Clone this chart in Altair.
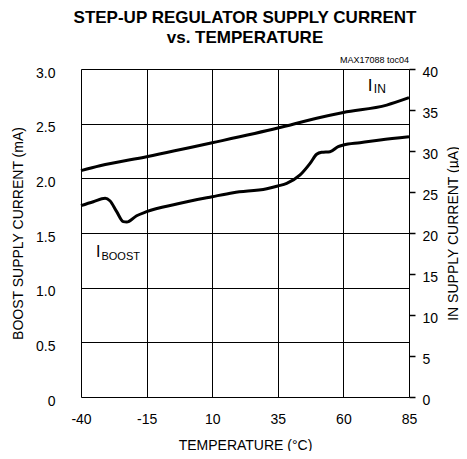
import altair as alt
import pandas as pd

# I_BOOST (left axis, mA)
boost_temp = [-40, -35.3, -30.8, -29, -26.4, -23.9, -22.6, -18.8, -15, -3.5, 10, 18, 30.8, 35, 38.4, 43.5, 47.3, 49.8, 51.7, 54.9, 58, 60, 66.3, 74, 85]
boost_ma = [1.750, 1.786, 1.817, 1.795, 1.695, 1.604, 1.600, 1.658, 1.695, 1.765, 1.832, 1.869, 1.905, 1.930, 1.954, 2.031, 2.137, 2.22, 2.238, 2.244, 2.29, 2.305, 2.326, 2.351, 2.381]

# I_IN (right axis, uA)
in_temp = [-40, -32.8, -15, 10, 35, 49.8, 60, 76.5, 85]
in_ua = [27.6, 28.2, 29.3, 31.0, 32.8, 34.0, 34.7, 35.6, 36.5]

x_ticks = [-40, -15, 10, 35, 60, 85]
left_ticks = [0, 0.5, 1.0, 1.5, 2.0, 2.5, 3.0]
right_ticks = [0, 5, 10, 15, 20, 25, 30, 35, 40]

FONT = "Liberation Sans"

boost_df = pd.DataFrame({"temp": boost_temp, "ma": boost_ma})
in_df = pd.DataFrame({"temp": in_temp, "ua": in_ua})

xscale = alt.Scale(domain=[-40, 85], nice=False, zero=False)
lscale = alt.Scale(domain=[0, 3], nice=False)
rscale = alt.Scale(domain=[0, 40], nice=False)

x_enc = alt.X(
    "temp:Q", scale=xscale,
    axis=alt.Axis(
        values=x_ticks, title="TEMPERATURE (°C)", grid=True, gridColor="black",
        gridWidth=1, gridOpacity=1, ticks=False, domain=False, labelPadding=15,
        labelFlush=False,
        labelExpr="datum.value + ''", labelFont=FONT, labelFontSize=14, labelColor="black",
        titleFont=FONT, titleFontSize=14, titleFontWeight="normal", titleColor="black",
        titleX=164, titleY=52, titleBaseline="alphabetic", titleAlign="center",
    ),
)

boost_line = alt.Chart(boost_df).mark_line(
    color="black", strokeWidth=3, interpolate="monotone"
).encode(
    x=x_enc,
    y=alt.Y(
        "ma:Q", scale=lscale,
        axis=alt.Axis(
            values=left_ticks, title="BOOST SUPPLY CURRENT (mA)", grid=True,
            gridColor="black", gridWidth=1, gridOpacity=1, ticks=False, domain=False,
            labelPadding=26, labelOffset=4, labelFlush=False,
            labelExpr="datum.value == 0 ? '0' : format(datum.value, '.1f')",
            labelFont=FONT, labelFontSize=14, labelColor="black",
            titleFont=FONT, titleFontSize=14, titleFontWeight="normal", titleColor="black",
            titleX=-59, titleY=164, titleAngle=270, titleBaseline="alphabetic", titleAlign="center",
        ),
    ),
)

def label(t, v, txt, size, dx=0, dy=0, align="left", font=FONT):
    df = pd.DataFrame({"temp": [t], "ma": [v], "txt": [txt]})
    return alt.Chart(df).mark_text(
        align=align, baseline="alphabetic", fontSize=size, font=font,
        color="black", dx=dx, dy=dy
    ).encode(x=alt.X("temp:Q", scale=xscale), y=alt.Y("ma:Q", scale=lscale), text="txt:N")

lbl_in_i = label(69.3, 2.799, "I", 17)
lbl_in_sub = label(71.6, 2.78, "IN", 12)
lbl_b_i = label(-34.3, 1.280, "I", 16)
lbl_b_sub = label(-32.2, 1.253, "BOOST", 11)
lbl_id = label(85, 3.0, "MAX17088 toc04", 9, dy=-6, align="right")

left_layer = alt.layer(boost_line, lbl_in_i, lbl_in_sub, lbl_b_i, lbl_b_sub, lbl_id)

in_line = alt.Chart(in_df).mark_line(
    color="black", strokeWidth=3, interpolate="monotone"
).encode(
    x=alt.X("temp:Q", scale=xscale),
    y=alt.Y(
        "ua:Q", scale=rscale,
        axis=alt.Axis(
            orient="right", values=right_ticks, title="IN SUPPLY CURRENT (µA)", grid=False,
            ticks=True, tickSize=6, tickColor="black", tickWidth=1.5, domain=False,
            labelPadding=7, labelOffset=3, labelFlush=False,
            labelFont=FONT, labelFontSize=14, labelColor="black",
            titleFont=FONT, titleFontSize=14, titleFontWeight="normal", titleColor="black",
            titleX=48, titleY=164, titleAngle=270, titleBaseline="alphabetic", titleAlign="center",
        ),
    ),
)

chart = alt.layer(left_layer, in_line).resolve_scale(y="independent").properties(
    width=328, height=328,
    autosize=alt.AutoSizeParams(type="none"),
    padding={"left": 73, "top": 61, "right": 50, "bottom": 54},
    title=alt.TitleParams(
        text=["STEP-UP REGULATOR SUPPLY CURRENT", "vs. TEMPERATURE"],
        font=FONT, fontSize=17, fontWeight="bold", color="black",
        anchor="middle", frame="group", baseline="bottom", offset=22, dy=30, lineHeight=20,
    ),
).configure_view(stroke="black", strokeWidth=3).configure(background="white")

chart.save("out.html", embed_options={"renderer": "svg", "actions": False})
